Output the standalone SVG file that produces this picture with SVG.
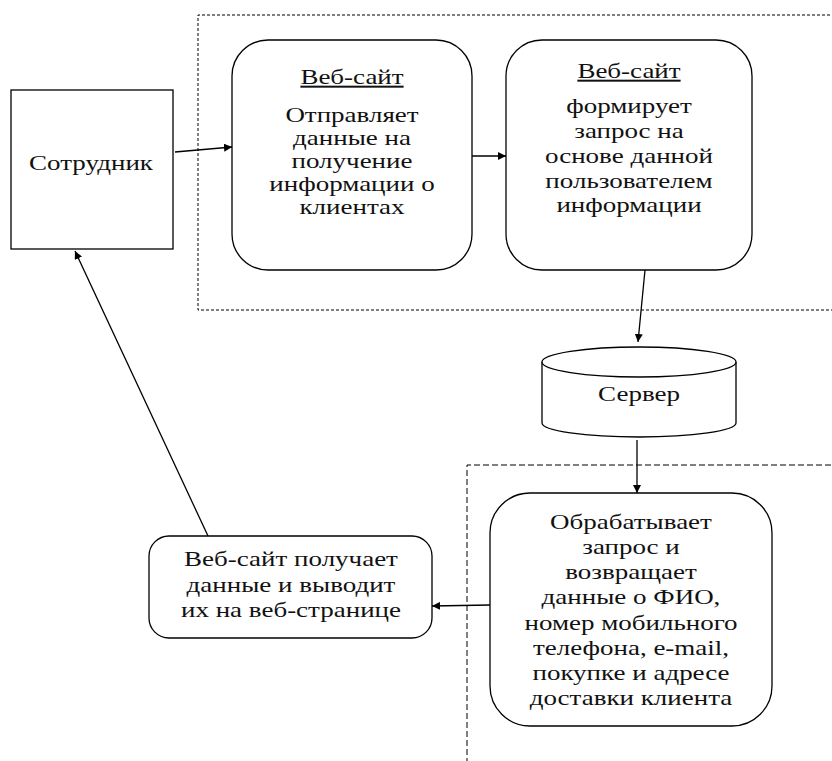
<svg xmlns="http://www.w3.org/2000/svg" width="832" height="761" viewBox="0 0 832 761">
<style>
.box{fill:#fff;stroke:#000;stroke-width:1.3}
.t{font-family:'Liberation Serif','DejaVu Serif',serif;font-size:20px;fill:#111;text-anchor:middle}
.u{text-decoration:underline}
.c{stroke:#000;stroke-width:1.3;fill:none;marker-end:url(#ah)}
.frame1{fill:none;stroke:#000;stroke-width:1;stroke-dasharray:3 2}
.frame2{fill:none;stroke:#000;stroke-width:1;stroke-dasharray:6 3}
</style>
<defs>
<marker id="ah" viewBox="0 0 10 10" refX="10" refY="5" markerWidth="8" markerHeight="8" markerUnits="userSpaceOnUse" orient="auto">
<path d="M0,0 L10,5 L0,10 z" fill="#000"/>
</marker>
</defs>
<rect width="832" height="761" fill="#fff"/>
<g id="frames">
<path class="frame1" d="M840,15 H198 V310 H840"/>
<path class="frame2" d="M840,465 H467 V770"/>
</g>
<g id="employee">
<rect class="box" x="11" y="90" width="162" height="159"/>
<g transform="translate(91,0) scale(1.35,1)">
<text class="t" x="0" y="170">Сотрудник</text>
</g>
</g>
<g id="web1">
<rect class="box" x="232" y="40" width="240" height="230" rx="36"/>
<g transform="translate(352,0) scale(1.35,1)">
<text class="t u" x="0" y="84">Веб-сайт</text>
<text class="t" x="0" y="122">Отправляет</text>
<text class="t" x="0" y="145">данные на</text>
<text class="t" x="0" y="168">получение</text>
<text class="t" x="0" y="191">информации о</text>
<text class="t" x="0" y="214">клиентах</text>
</g>
</g>
<g id="web2">
<rect class="box" x="506" y="40" width="246" height="230" rx="36"/>
<g transform="translate(629,0) scale(1.35,1)">
<text class="t u" x="0" y="78">Веб-сайт</text>
<text class="t" x="0" y="113">формирует</text>
<text class="t" x="0" y="138">запрос на</text>
<text class="t" x="0" y="163">основе данной</text>
<text class="t" x="0" y="188">пользователем</text>
<text class="t" x="0" y="212">информации</text>
</g>
</g>
<g id="server">
<path class="box" d="M542,362 V423 A97,14 0 0 0 736,423 V362 A97,15 0 0 0 542,362 Z"/>
<path class="box" d="M542,362 A97,15 0 0 0 736,362" fill="none"/>
<g transform="translate(639,0) scale(1.35,1)">
<text class="t" x="0" y="401">Сервер</text>
</g>
</g>
<g id="process">
<rect class="box" x="490" y="493" width="282" height="233" rx="40"/>
<g transform="translate(631,0) scale(1.35,1)">
<text class="t" x="0" y="529">Обрабатывает</text>
<text class="t" x="0" y="554">запрос и</text>
<text class="t" x="0" y="579">возвращает</text>
<text class="t" x="0" y="604">данные о ФИО,</text>
<text class="t" x="0" y="630">номер мобильного</text>
<text class="t" x="0" y="655">телефона, e-mail,</text>
<text class="t" x="0" y="680">покупке и адресе</text>
<text class="t" x="0" y="705">доставки клиента</text>
</g>
</g>
<g id="output">
<rect class="box" x="149" y="536" width="283" height="102" rx="20"/>
<g transform="translate(291,0) scale(1.35,1)">
<text class="t" x="0" y="566">Веб-сайт получает</text>
<text class="t" x="0" y="592">данные и выводит</text>
<text class="t" x="0" y="617">их на веб-странице</text>
</g>
</g>
<g id="connectors">
<line class="c" x1="175" y1="152" x2="232" y2="147"/>
<line class="c" x1="472" y1="156" x2="506" y2="156"/>
<line class="c" x1="645" y1="270" x2="638" y2="342"/>
<line class="c" x1="637" y1="440" x2="637" y2="493"/>
<line class="c" x1="490" y1="605" x2="432" y2="606"/>
<line class="c" x1="208" y1="536" x2="75" y2="251"/>
</g>
</svg>
